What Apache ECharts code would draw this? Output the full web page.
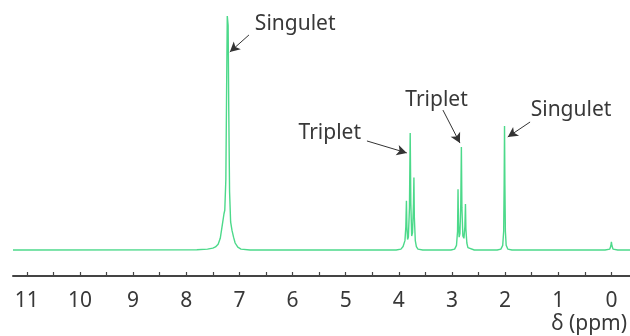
<!DOCTYPE html>
<html>
<head>
<meta charset="utf-8">
<script src="https://cdn.jsdelivr.net/npm/echarts@6/dist/echarts.min.js"></script>
<style>html,body{margin:0;padding:0;background:#fff}#c{width:630px;height:336px}</style>
</head>
<body>
<div id="c"></div>
<script>
// chemical shift (ppm) of each sampled point of the spectrum
const ppm = [
  11.26, 7.8, 7.6, 7.5, 7.45, 7.40, 7.36, 7.32, 7.29, 7.275, 7.255, 7.24, 7.228, 7.220, 7.212, 7.20, 7.185, 7.165, 7.14, 7.11, 7.08, 7.03, 6.97, 6.8,
  4.05, 3.96, 3.92, 3.885, 3.868, 3.857, 3.848, 3.835, 3.82, 3.80, 3.786, 3.774, 3.758, 3.742, 3.724, 3.716, 3.708, 3.69, 3.67, 3.64, 3.55,
  3.02, 2.95, 2.915, 2.895, 2.886, 2.878, 2.865, 2.85, 2.834, 2.823, 2.813, 2.795, 2.775, 2.757, 2.746, 2.738, 2.72, 2.70, 2.67, 2.58,
  2.15, 2.08, 2.045, 2.027, 2.018, 2.011, 2.004, 1.995, 1.98, 1.95, 1.87,
  0.12, 0.03, 0.01, 0.0, -0.01, -0.03, -0.12, -0.35
];
// relative intensity at each point (tallest peak = 100)
const intensity = [
  0, 0.1, 0.4, 0.8, 1.3, 2.5, 5, 11, 15.5, 17, 30, 70, 100, 100, 96, 60, 25, 12, 8.5, 5.5, 3, 1.2, 0.4, 0,
  0, 0.4, 1.5, 4, 10, 21, 10, 4.5, 5.5, 18, 50, 20, 6, 7.5, 20, 31, 14, 4, 1.5, 0.4, 0,
  0, 0.4, 2, 8, 26, 12, 5.5, 7, 20, 44, 18, 6, 5, 10, 19.7, 9, 3, 1, 0.2, 0,
  0, 0.4, 2, 8, 28, 53, 28, 8, 2, 0.4, 0,
  0, 0.4, 1.8, 3.5, 1.8, 0.4, 0, 0
];
// axis ticks and labels
const majorTicks = [0, 1, 2, 3, 4, 5, 6, 7, 8, 9, 10, 11];
const allTicks = [0, 0.5, 1, 1.5, 2, 2.5, 3, 3.5, 4, 4.5, 5, 5.5, 6, 6.5, 7, 7.5, 8, 8.5, 9, 9.5, 10, 10.5, 11];
const axisTitle = 'δ (ppm)';
// annotations: label text, label anchor [ppm, intensity], arrow start, arrow tip
const annoText = ['Singulet', 'Triplet', 'Triplet', 'Singulet'];
const annoLabelAt = [[5.95, 96.6], [5.30, 50.0], [3.29, 64.1], [0.76, 59.8]];
const annoFrom = [[6.82, 91.9], [4.60, 46.6], [3.17, 59.8], [1.53, 54.7]];
const annoTo = [[7.18, 84.6], [3.85, 41.5], [2.85, 45.7], [1.95, 48.3]];

const chart = echarts.init(document.getElementById('c'), null, {renderer: 'canvas'});
const FONT = '"Noto Sans", "Open Sans", sans-serif';
const TXT = '#383838';

const spectrum = ppm.map((p, i) => [p, intensity[i]]);

chart.setOption({
  animation: false,
  backgroundColor: '#ffffff',
  grid: {left: 13, right: 0, top: 16, bottom: 81.3, containLabel: false},
  xAxis: {
    type: 'value', inverse: true, min: -0.35, max: 11.26, offset: 21.3,
    splitLine: {show: false},
    axisLine: {show: true, onZero: false, lineStyle: {color: '#444', width: 2}},
    axisTick: {show: true, inside: true, length: 4, customValues: allTicks, lineStyle: {color: '#444', width: 1.2}},
    axisLabel: {show: true, customValues: majorTicks, margin: 15, fontSize: 21, color: TXT, fontFamily: FONT}
  },
  yAxis: {type: 'value', min: -2, max: 100, show: false, splitLine: {show: false}},
  graphic: [{
    type: 'text', right: 3, top: 314,
    style: {text: axisTitle, fontSize: 21, fill: TXT, fontFamily: FONT}
  }],
  series: [{
    type: 'line', data: spectrum, showSymbol: false, symbol: 'none', clip: false,
    lineStyle: {color: '#4cd98a', width: 1.4},
    silent: true,
    markLine: {
      silent: true, symbol: ['none', 'arrow'], symbolSize: [8, 10],
      label: {show: false},
      lineStyle: {color: '#333', width: 1, type: 'solid'},
      data: annoFrom.map((f, i) => [{coord: f}, {coord: annoTo[i]}])
    },
    markPoint: {
      silent: true, symbol: 'circle', symbolSize: 0,
      label: {show: true, position: 'inside', fontSize: 21, color: TXT, fontFamily: FONT},
      data: annoText.map((t, i) => ({coord: annoLabelAt[i], value: t, label: {formatter: t}}))
    }
  }]
});
</script>
</body>
</html>
